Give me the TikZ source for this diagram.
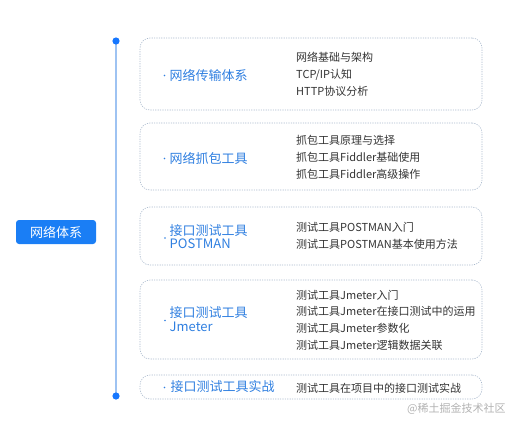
\documentclass[tikz,border=0pt]{standalone}
\usepackage{fontspec}
\setmainfont{Noto Sans CJK SC}
\definecolor{rootblue}{HTML}{1A7EF5}
\definecolor{lineblue}{HTML}{9EC3F2}
\definecolor{dotblue}{HTML}{1677FF}
\definecolor{labblue}{HTML}{2F7FE0}
\definecolor{boxline}{HTML}{A9B9CC}
\definecolor{txtgray}{HTML}{333333}
\tikzset{
  groupbox/.style={draw=boxline, line width=0.6pt, dash pattern=on 1.2pt off 1.2pt,
    rounded corners=10pt, minimum width=342pt, inner sep=0pt},
  lefttext/.style={anchor=west, text=labblue, font=\fontsize{13}{14}\selectfont, align=left, inner sep=0pt},
  righttext/.style={anchor=west, text=txtgray, font=\fontsize{11}{17}\selectfont, align=left, inner sep=0pt},
  smalldot/.style={fill=labblue, circle, inner sep=0pt, minimum size=1.6pt},
}
\begin{document}
\begin{tikzpicture}[x=1pt,y=-1pt]
\useasboundingbox (0,0) rectangle (518,428);
% spine
\coordinate (top) at (116,41);
\coordinate (bot) at (116,396);
\draw[lineblue, line width=1.6pt] (top) -- (bot);
\fill[dotblue] (top) circle (3.6pt);
\fill[dotblue] (bot) circle (3.6pt);
% root
\node[fill=rootblue, rounded corners=3pt, minimum width=80pt, minimum height=24pt, inner sep=0pt,
  text=white, font=\fontsize{13}{14}\selectfont] (root) at (56,232) {网络体系};
% boxes
\node[groupbox, minimum height=72pt] (b1) at (311,74) {};
\node[groupbox, minimum height=67pt] (b2) at (311,156.5) {};
\node[groupbox, minimum height=58pt] (b3) at (311,236) {};
\node[groupbox, minimum height=79pt] (b4) at (311,319.5) {};
\node[groupbox, minimum height=24pt] (b5) at (311,387) {};
% left labels
\node[smalldot] (d1) at (164.5,75.5) {};
\node[lefttext] (l1) at (169.5,75) {网络传输体系};
\node[smalldot] (d2) at (164.5,158.5) {};
\node[lefttext] (l2) at (169.5,158) {网络抓包工具};
\node[smalldot] (d3) at (165,238) {};
\node[lefttext, font=\fontsize{13}{13.5}\selectfont] (l3) at (169.5,236.5) {接口测试工具\\POSTMAN};
\node[smalldot] (d4) at (165,320.5) {};
\node[lefttext, font=\fontsize{13}{14}\selectfont] (l4) at (169.5,319) {接口测试工具\\Jmeter};
\node[smalldot] (d5) at (164.5,387.5) {};
\node[lefttext] (l5) at (170.5,387) {接口测试工具实战};
% right texts
\node[righttext] (r1) at (296,74) {网络基础与架构\\TCP/IP认知\\HTTP协议分析};
\node[righttext] (r2) at (296,157) {抓包工具原理与选择\\抓包工具Fiddler基础使用\\抓包工具Fiddler高级操作};
\node[righttext] (r3) at (296,235.5) {测试工具POSTMAN入门\\测试工具POSTMAN基本使用方法};
\node[righttext, font=\fontsize{11}{16.7}\selectfont] (r4) at (296,320) {测试工具Jmeter入门\\测试工具Jmeter在接口测试中的运用\\测试工具Jmeter参数化\\测试工具Jmeter逻辑数据关联};
\node[righttext] (r5) at (296,388) {测试工具在项目中的接口测试实战};
% watermark
\node[anchor=west, text=black!30, font=\fontsize{11}{12}\selectfont, inner sep=0pt] (wm) at (407,409) {@稀土掘金技术社区};
\end{tikzpicture}
\end{document}
